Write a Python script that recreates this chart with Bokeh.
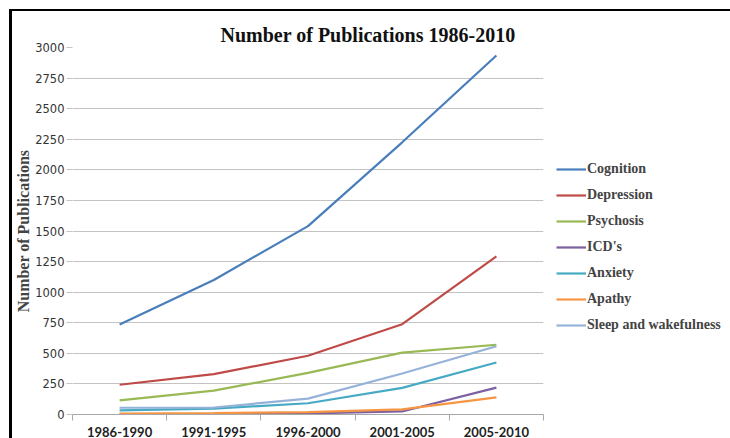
from bokeh.plotting import figure
from bokeh.models import Legend, LegendItem, FixedTicker, Range1d
from bokeh.embed import file_html
from bokeh.resources import INLINE

periods = ["1986-1990", "1991-1995", "1996-2000", "2001-2005", "2005-2010"]
cognition = [735, 1100, 1540, 2225, 2935]
depression = [243, 330, 480, 738, 1293]
psychosis = [115, 195, 340, 506, 570]
icds = [3, 5, 10, 25, 220]
anxiety = [33, 48, 92, 218, 425]
apathy = [8, 12, 20, 42, 140]
sleep = [55, 57, 130, 335, 558]
title_text = "Number of Publications 1986-2010"

series_names = ["Cognition", "Depression", "Psychosis", "ICD's", "Anxiety", "Apathy", "Sleep and wakefulness"]
series_values = [cognition, depression, psychosis, icds, anxiety, apathy, sleep]
colors = ["#4a7ebb", "#be4b48", "#98b954", "#7d60a0", "#46aac5", "#f69544", "#95b2d8"]

xs = list(range(1, len(periods) + 1))

p = figure(frame_width=471, frame_height=367, output_backend="svg", toolbar_location=None,
           x_range=Range1d(0.5, len(periods) + 0.5), y_range=Range1d(0, 3000),
           min_border_left=56, min_border_right=0, min_border_top=36, min_border_bottom=0)
p.styles = {"margin-left": "9px", "margin-top": "9px",
            "border-left": "3px solid black", "border-top": "2px solid black"}

p.title.text = title_text
p.title.text_font = "Liberation Serif"
p.title.text_font_size = "20px"
p.title.text_font_style = "bold"
p.title.text_color = "#111111"
p.title.align = "left"
p.title.offset = 148
p.title.vertical_align = "top"
p.title.standoff = 0

p.outline_line_color = None
p.xgrid.grid_line_color = None
p.ygrid.grid_line_color = "#c3c3c3"
p.ygrid.grid_line_width = 1.2

p.yaxis.ticker = FixedTicker(ticks=list(range(0, 3001, 250)))
p.yaxis.axis_line_color = None
p.yaxis.major_tick_in = 0
p.yaxis.major_tick_out = 6
p.yaxis.major_tick_line_color = "#c3c3c3"
p.yaxis.minor_tick_line_color = None
p.yaxis.major_label_text_font = "DejaVu Sans"
p.yaxis.major_label_text_font_size = "11.5px"
p.yaxis.major_label_text_color = "#333333"
p.yaxis.major_label_standoff = 2
p.yaxis.axis_label = "Number of Publications"
p.yaxis.axis_label_text_font = "Liberation Serif"
p.yaxis.axis_label_text_font_style = "bold"
p.yaxis.axis_label_text_font_size = "16px"
p.yaxis.axis_label_standoff = 0

p.xaxis.ticker = FixedTicker(ticks=xs, minor_ticks=[x - 0.5 for x in xs] + [xs[-1] + 0.5])
p.xaxis.major_label_overrides = {x: lab for x, lab in zip(xs, periods)}
p.xaxis.axis_line_color = "#a8a8a8"
p.xaxis.major_tick_in = 0
p.xaxis.major_tick_out = 0
p.xaxis.minor_tick_in = 0
p.xaxis.minor_tick_out = 6
p.xaxis.minor_tick_line_color = "#a8a8a8"
p.xaxis.major_label_text_font = "Lato"
p.xaxis.major_label_text_font_style = "bold"
p.xaxis.major_label_text_font_size = "13px"
p.xaxis.major_label_text_color = "#222222"
p.xaxis.major_label_standoff = 6

items = []
for name, vals, c in zip(series_names, series_values, colors):
    r = p.line(xs, vals, line_color=c, line_width=2.2)
    items.append(LegendItem(label=name, renderers=[r]))

legend = Legend(items=items, location=(13, 79), orientation="vertical")
legend.label_text_font = "Liberation Serif"
legend.label_text_font_style = "bold"
legend.label_text_font_size = "14px"
legend.label_standoff = 1
legend.glyph_width = 30
legend.glyph_height = 20
legend.label_height = 20
legend.spacing = 6
legend.padding = 0
legend.margin = 0
legend.border_line_color = None
legend.background_fill_alpha = 0
p.add_layout(legend, "right")

open("out.html", "w").write(file_html(p, INLINE))
